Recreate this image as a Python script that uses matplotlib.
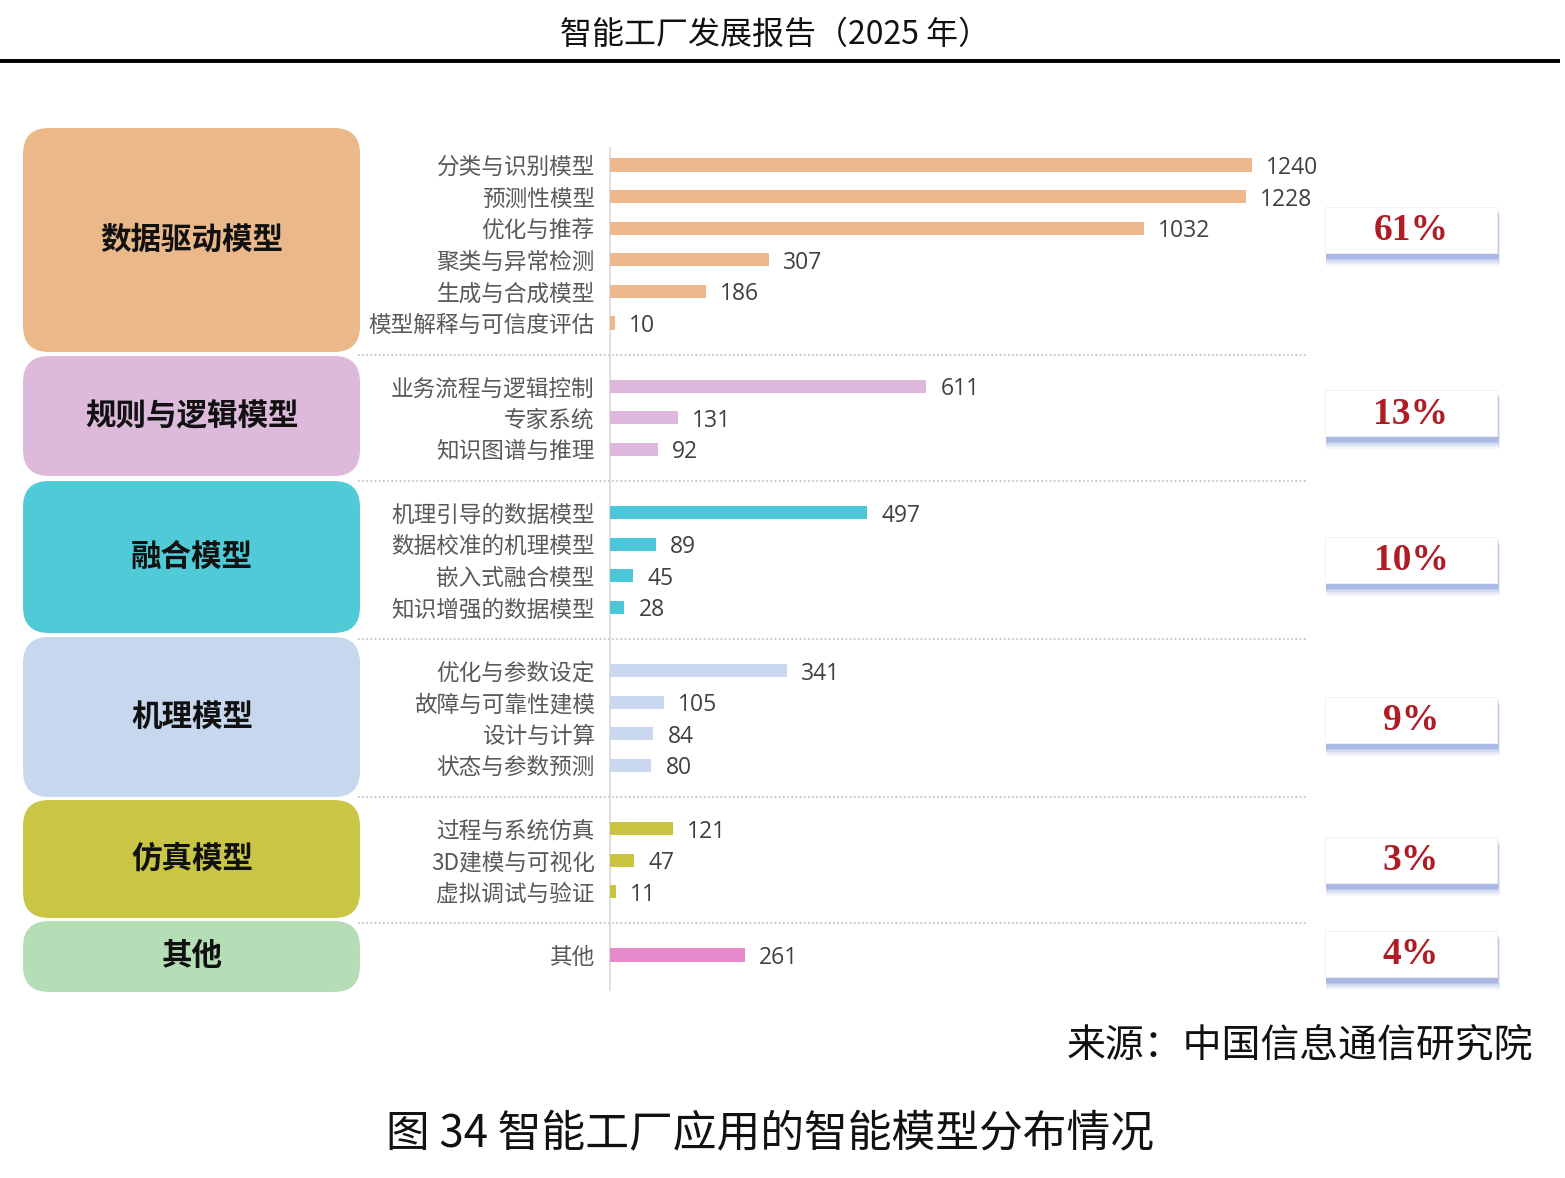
import matplotlib
matplotlib.use("Agg")
import matplotlib.pyplot as plt
from matplotlib.patches import FancyBboxPatch, Rectangle

plt.rcParams['font.family'] = ['Noto Sans CJK SC', 'DejaVu Sans']

# ---------------- data ----------------
groups = ["数据驱动模型", "规则与逻辑模型", "融合模型", "机理模型", "仿真模型", "其他"]
group_shares = ["61%", "13%", "10%", "9%", "3%", "4%"]
group_items = [
    ["分类与识别模型", "预测性模型", "优化与推荐", "聚类与异常检测", "生成与合成模型", "模型解释与可信度评估"],
    ["业务流程与逻辑控制", "专家系统", "知识图谱与推理"],
    ["机理引导的数据模型", "数据校准的机理模型", "嵌入式融合模型", "知识增强的数据模型"],
    ["优化与参数设定", "故障与可靠性建模", "设计与计算", "状态与参数预测"],
    ["过程与系统仿真", "3D建模与可视化", "虚拟调试与验证"],
    ["其他"],
]
group_values = [
    [1240, 1228, 1032, 307, 186, 10],
    [611, 131, 92],
    [497, 89, 45, 28],
    [341, 105, 84, 80],
    [121, 47, 11],
    [261],
]
bar_colors = ["#EDB88B", "#DDB7DC", "#4CC7D8", "#C9D8EE", "#C9C43D", "#E58BCB"]
box_colors = ["#EBB889", "#DDB9DC", "#50CAD6", "#C6D7EE", "#C9C646", "#B5DEB6"]

header = "智能工厂发展报告（2025 年）"
source = "来源：中国信息通信研究院"
caption = "图 34 智能工厂应用的智能模型分布情况"

# ---------------- figure ----------------
W, H = 1565, 1178
fig = plt.figure(figsize=(W / 100, H / 100), dpi=100)
fig.patch.set_facecolor("white")

bg = fig.add_axes([0, 0, 1, 1], zorder=0)
bg.set_xlim(0, W)
bg.set_ylim(H, 0)
bg.axis("off")

# header
bg.text(775, 35, header, ha="center", va="center", fontsize=23, color="#111111",
        fontweight="light")
bg.plot([0, 1560], [61, 61], color="black", lw=2.8, solid_capstyle="butt")

# row layout
rows = []
row_labels = []
row_vals = []
row_cols = []
sep_rows = []
r = 0
for gi, (items, vals) in enumerate(zip(group_items, group_values)):
    for it, v in zip(items, vals):
        rows.append(r)
        row_labels.append(it)
        row_vals.append(v)
        row_cols.append(bar_colors[gi])
        r += 1
    if gi < len(groups) - 1:
        sep_rows.append(r)
        r += 1

# bar axes, pixel geometry
x0_px, x1_px = 610, 1310
y_top_px, y_bot_px = 148, 990
row0_px, row_h = 165, 31.6
px_per_unit = 642 / 1240.0
ax = fig.add_axes([x0_px / W, 1 - y_bot_px / H, (x1_px - x0_px) / W, (y_bot_px - y_top_px) / H], zorder=2)
ax.patch.set_alpha(0)
ax.set_xlim(0, (x1_px - x0_px) / px_per_unit)
ax.set_ylim((y_bot_px - row0_px) / row_h, (y_top_px - row0_px) / row_h)

ax.barh(rows, row_vals, height=0.42, color=row_cols, zorder=3)
ax.set_yticks(rows)
ax.set_yticklabels(row_labels, fontsize=16.3, color="#595959")
ax.tick_params(axis="y", length=0, pad=11)
ax.set_xticks([])
for s in ["top", "right", "bottom"]:
    ax.spines[s].set_visible(False)
ax.spines["left"].set_color("#D9D9D9")
ax.spines["left"].set_linewidth(1.2)

off = 14 / px_per_unit
for rr, v in zip(rows, row_vals):
    ax.text(v + off, rr, str(v), va="center_baseline", ha="left", fontsize=16.5, color="#404040",
            family=["Open Sans", "DejaVu Sans"])

sep_x0 = (358 - x0_px) / px_per_unit
sep_x1 = (1308 - x0_px) / px_per_unit
for sr in sep_rows:
    ax.plot([sep_x0, sep_x1], [sr, sr], color="#BDBDBD", lw=1.2, ls=(0, (1, 1.5)),
            clip_on=False, zorder=1)

# left category boxes
box_extents = [(128, 352), (356, 476), (481, 633), (637, 797), (800, 918), (921, 992)]
for g, (ya, yb), c in zip(groups, box_extents, box_colors):
    p = FancyBboxPatch((23, ya), 337, yb - ya, boxstyle="round,pad=0,rounding_size=26",
                       facecolor=c, edgecolor="none", zorder=1)
    bg.add_patch(p)
    bg.text(192, (ya + yb) / 2, g, ha="center", va="center", fontsize=22,
            fontweight="heavy", color="#111111", zorder=2)

# percentage boxes
pct_centers = [230, 413, 560, 720, 860, 954]
bx, bw, bh = 1325, 172, 46
for s, cy in zip(group_shares, pct_centers):
    top = cy - bh / 2
    for i, a in enumerate([0.08, 0.12, 0.17, 0.24, 0.32]):
        d = 5 - i
        bg.add_patch(Rectangle((bx + 1, top + 4 + d * 0.7), bw + d * 0.4, bh + d * 1.0,
                               facecolor="#7F95D8", edgecolor="none", alpha=a, zorder=1))
    bg.add_patch(Rectangle((bx, top), bw, bh, facecolor="white", edgecolor="#F0F0F0",
                           lw=0.6, zorder=2))
    bg.text(bx + bw / 2, cy + 1, s, ha="center", va="center", fontsize=27, fontweight="bold",
            color="#B01C26", family=["Liberation Serif", "DejaVu Serif"], zorder=3)

# footer
bg.text(1533, 1045, source, ha="right", va="center", fontsize=28, color="#111111",
        fontweight="light")
bg.text(770, 1133, caption, ha="center", va="center", fontsize=31.5, color="#111111",
        fontweight="light")

fig.savefig("out.png", dpi=100, facecolor="white")
